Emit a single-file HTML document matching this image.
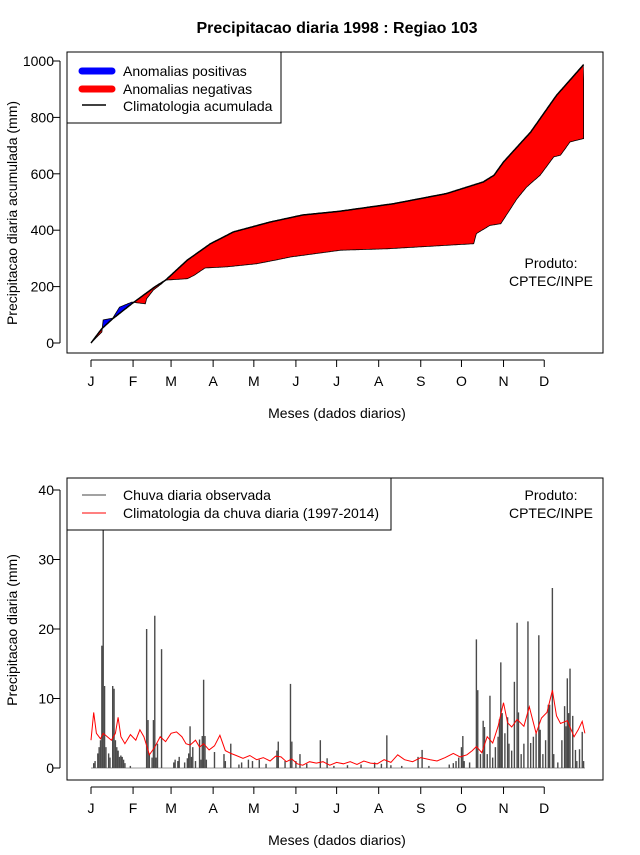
<!DOCTYPE html>
<html><head><meta charset="utf-8"><style>
body{margin:0;background:#fff;width:640px;height:850px;overflow:hidden}
svg text{font-family:"Liberation Sans",sans-serif;fill:#000}
</style></head><body>
<svg id="chart" width="640" height="850" xmlns="http://www.w3.org/2000/svg">
<text x="337" y="33" font-size="16" font-weight="bold" text-anchor="middle">Precipitacao diaria 1998 : Regiao 103</text>
<g id="top"></g>
<g id="bot"></g>
</svg>
<script>
// ---- cumulative panel data ----
const climCumDays = [1,9,17,31,48,56,72,89,106,133,157,184,224,263,290,298,305,325,344,364];
const climCumVals = [0,51,86,139,199,223,294,352,394,429,454,467,494,530,571,595,642,748,878,987];
const obsCumDays = [1,9,10,17,22,31,41,42,47,53,56,72,77,85,101,123,137,148,185,219,283,285,295,303,315,322,332,342,347,354,364];
const obsCumVals = [0,39,82,88,127,145,139,157,188,210,223,228,240,266,270,281,294,305,329,334,352,388,417,423,512,553,595,660,666,713,725];
// ---- daily panel data ----
const obsDays = [3,4,6,7,8,9,10,11,12,14,15,17,18,19,20,21,22,23,24,25,26,30,42,43,44,46,47,48,49,50,53,62,63,65,66,70,72,73,74,75,76,78,81,82,83,84,85,86,92,99,100,104,110,112,117,120,125,130,138,139,144,148,149,152,155,160,170,175,180,190,200,210,215,219,222,230,242,245,250,265,268,270,272,274,275,276,280,285,286,288,290,291,293,295,297,299,301,302,303,304,306,308,309,311,313,315,316,318,320,323,325,327,329,331,332,334,336,338,339,341,342,345,348,350,351,352,353,354,356,358,359,361,363,364];
const obsVals = [0.7,1.0,2.1,3,4,17.6,38,11.8,3,2.1,1.5,11.8,11.4,4,3,2.5,1.6,1.8,1.6,1.2,0.7,0.3,20,6.9,2,1.5,6.9,21.9,1.5,3.5,17.1,0.8,1.2,1.0,1.6,0.8,1.4,2.1,6,1.6,3,1.0,4.1,1.2,4.6,12.7,4.6,1.2,2.3,2,1.0,3.5,0.5,0.8,1.2,1.0,1.2,0.6,2.5,3.8,1.0,12.1,3.8,1.0,2,0.6,4.0,1.4,0.3,0.4,0.5,0.8,0.6,4.7,0.4,0.3,1.6,2.6,0.3,0.5,0.7,1.0,1.5,3.0,4.6,1.0,0.8,18.5,11.2,2,6.8,5.9,2,10.4,1.5,3,4.5,7,15.2,7.9,5,7.3,3.5,2.5,12.4,20.9,8,2,3.5,21.1,3.6,4.5,5,19.1,5.5,2,4,9.1,9.1,25.9,2,0.8,4,8.9,6,12.9,7.9,14.3,7.5,2.6,1,2.7,5.2,1];
const climDays = [1,3,5,8,10,13,16,19,21,23,26,30,34,37,40,44,48,52,56,60,64,68,71,74,78,81,84,88,92,96,100,104,108,113,118,123,128,133,137,141,145,149,153,157,162,167,172,177,182,187,192,197,202,207,212,217,222,227,232,238,244,251,256,262,268,273,278,282,285,289,293,297,301,305,308,311,315,320,324,327,329,333,337,341,344,347,352,357,360,363,365];
const climVals = [4.0,8.0,5.0,4.2,5.0,4.5,4.0,5.0,7.3,4.5,3.5,4.8,4.0,5.5,4.5,1.9,3.0,4.5,3.8,5.0,5.2,4.5,3.5,3.3,4.0,3.0,3.5,2.6,3.2,4.7,2.5,2.1,1.8,1.4,1.8,1.2,1.5,1.0,1.7,1.6,0.9,1.3,0.6,0.4,0.9,0.7,0.9,0.4,0.8,0.6,0.9,0.5,1.0,0.7,0.6,1.2,0.8,1.9,1.2,0.9,1.5,1.2,1.0,1.5,2.1,1.6,1.9,2.5,3.1,2.2,4.5,3.6,6.0,9.4,6.5,5.9,7.0,6.0,8.8,6.5,5.0,7.2,8.0,11.2,7.5,6.4,6.8,4.5,5.5,6.7,5.0];
const monthLabels = ["J","F","M","A","M","J","J","A","S","O","N","D"];
const monthStart = [1,32,60,91,121,152,182,213,244,274,305,335];
const topTicks = [0,200,400,600,800,1000];
const botTicks = [0,10,20,30,40];

const NS="http://www.w3.org/2000/svg";
function mk(tag,attrs,parent,txt){const e=document.createElementNS(NS,tag);for(const k in attrs)e.setAttribute(k,attrs[k]);if(txt!==undefined)e.textContent=txt;parent.appendChild(e);return e;}
const xS = d => 91 + (d-1)*1.357;
const yT = v => 343 - v*0.282;
const yB = v => 768 - v*6.95;
function interp(ds,vs,d){for(let i=0;i<ds.length-1;i++){if(d<=ds[i+1]){const t=(d-ds[i])/(ds[i+1]-ds[i]);return vs[i]+t*(vs[i+1]-vs[i]);}}return vs[vs.length-1];}

function axes(g,top,bot,yfn,ticks,ytitle,ycenter){
  const box=mk('rect',{x:67,y:top,width:536,height:bot-top,fill:'none',stroke:'#000','stroke-width':1},g);
  
  mk('line',{x1:60,x2:60,y1:yfn(ticks[0]),y2:yfn(ticks[ticks.length-1]),stroke:'#000'},g);
  ticks.forEach(t=>{mk('line',{x1:53,x2:60,y1:yfn(t),y2:yfn(t),stroke:'#000'},g);
    const l=mk('text',{x:54,y:yfn(t)+5,'font-size':14,'text-anchor':'end'},g,t);
    });
  mk('line',{x1:xS(1),x2:xS(335),y1:bot+7,y2:bot+7,stroke:'#000'},g);
  monthStart.forEach((d,i)=>{mk('line',{x1:xS(d),x2:xS(d),y1:bot+7,y2:bot+14,stroke:'#000'},g);
    const l=mk('text',{x:xS(d),y:bot+33,'font-size':14,'text-anchor':'middle'},g,monthLabels[i]);
    });
  const xt=mk('text',{x:337,y:bot+65,'font-size':14,'text-anchor':'middle'},g,'Meses (dados diarios)');
  
  const yt=mk('text',{x:17,y:ycenter,'font-size':14,'text-anchor':'middle',transform:`rotate(-90 17 ${ycenter})`},g,ytitle);
  
}

// ---- top panel ----
const gT=document.getElementById('top');
axes(gT,52,353,yT,topTicks,'Precipitacao diaria acumulada (mm)',213);
let climPts=[],obsPts=[];
for(let d=1;d<=364;d+=0.5){climPts.push([xS(d),yT(interp(climCumDays,climCumVals,d))]);obsPts.push([xS(d),yT(interp(obsCumDays,obsCumVals,d))]);}
const ps=a=>a.map(p=>p[0].toFixed(1)+','+p[1].toFixed(1)).join(' ');
const defs=mk('defs',{},gT);
const cA=mk('clipPath',{id:'above'},defs);
mk('polygon',{points:ps(climPts)+` ${xS(370)},40 ${xS(-5)},40`},cA);
const cB=mk('clipPath',{id:'below'},defs);
mk('polygon',{points:ps(climPts)+` ${xS(370)},360 ${xS(-5)},360`},cB);
const band=ps(obsPts)+' '+ps(climPts.slice().reverse());
const pb=mk('polygon',{points:band,fill:'#0000ff',stroke:'#000','stroke-width':0.8,'clip-path':'url(#above)'},gT);

const pr=mk('polygon',{points:band,fill:'#ff0000',stroke:'#000','stroke-width':0.8,'clip-path':'url(#below)'},gT);

const cl=mk('polyline',{points:ps(climPts),fill:'none',stroke:'#000','stroke-width':1.5},gT);

const lg=mk('g',{},gT);
mk('rect',{x:67,y:52,width:214,height:71,fill:'#fff',stroke:'#000'},lg);
mk('line',{x1:82,x2:112,y1:71,y2:71,stroke:'#0000ff','stroke-width':7,'stroke-linecap':'round'},lg);
mk('line',{x1:82,x2:112,y1:89,y2:89,stroke:'#ff0000','stroke-width':7,'stroke-linecap':'round'},lg);
mk('line',{x1:82,x2:106,y1:105,y2:105,stroke:'#000','stroke-width':1.5},lg);
[['Anomalias positivas',76],['Anomalias negativas',94],['Climatologia acumulada',111]].forEach(([t,y])=>{const e=mk('text',{x:123,y:y,'font-size':14},lg,t);});
mk('text',{x:551,y:268,'font-size':14,'text-anchor':'middle'},gT,'Produto:');
mk('text',{x:551,y:286,'font-size':14,'text-anchor':'middle'},gT,'CPTEC/INPE');

// ---- bottom panel ----
const gB=document.getElementById('bot');
axes(gB,478,780,yB,botTicks,'Precipitacao diaria (mm)',630);
mk('line',{x1:xS(1),x2:xS(365),y1:yB(0),y2:yB(0),stroke:'#999','stroke-width':1},gB);
obsDays.forEach((d,i)=>{
  const b=mk('line',{x1:xS(d),x2:xS(d),y1:yB(0),y2:yB(obsVals[i]),stroke:'#4a4a4a','stroke-width':1.4},gB);
  
  
});
const rl=mk('polyline',{points:climDays.map((d,i)=>xS(d).toFixed(1)+','+yB(climVals[i]).toFixed(1)).join(' '),fill:'none',stroke:'#ff0000','stroke-width':1},gB);

const lg2=mk('g',{},gB);
mk('rect',{x:67,y:478,width:324,height:52,fill:'#fff',stroke:'#000'},lg2);
mk('line',{x1:82,x2:106,y1:495,y2:495,stroke:'#444'},lg2);
mk('line',{x1:82,x2:106,y1:513,y2:513,stroke:'#ff0000'},lg2);
[['Chuva diaria observada',500],['Climatologia da chuva diaria (1997-2014)',518]].forEach(([t,y])=>{const e=mk('text',{x:123,y:y,'font-size':14},lg2,t);});
mk('text',{x:551,y:500,'font-size':14,'text-anchor':'middle'},gB,'Produto:');
mk('text',{x:551,y:518,'font-size':14,'text-anchor':'middle'},gB,'CPTEC/INPE');
</script>
</body></html>
